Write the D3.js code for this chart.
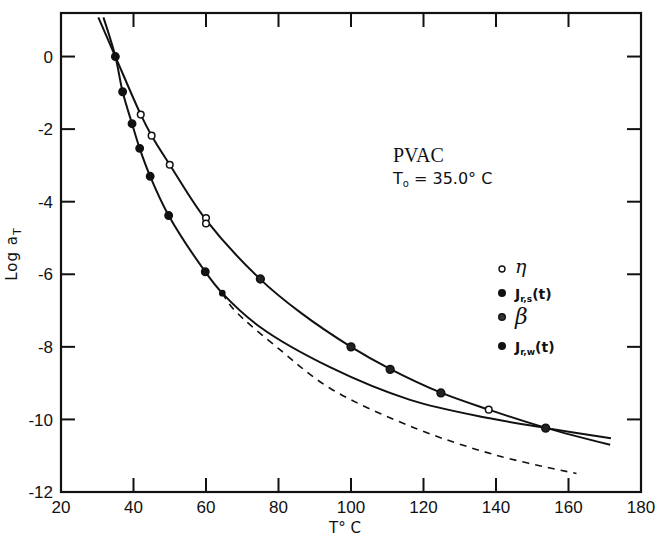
<!DOCTYPE html>
<html>
<head>
<meta charset="utf-8">
<script src="https://cdn.jsdelivr.net/npm/d3@7"></script>
<style>
  body { margin: 0; background: #fff; }
  text { font-family: "DejaVu Sans", sans-serif; fill: #111; }
</style>
</head>
<body>
<div id="chart"></div>
<script>
// fitted curves, [T (deg C), log aT]
const upperCurve = [[30.3,1.08],[35,0],[42,-1.6],[45,-2.18],[50,-2.98],[60,-4.5],[75,-6.14],[86,-7.05],[100,-8.0],[111,-8.62],[125,-9.27],[138,-9.73],[154,-10.24],[171.5,-10.7]];
const lowerCurve = [[31.7,1.08],[35,0],[37,-0.97],[39.6,-1.85],[41.7,-2.53],[44.6,-3.3],[49.7,-4.38],[59.8,-5.93],[64.5,-6.52],[75,-7.46],[94.2,-8.56],[116.3,-9.46],[138.3,-9.97],[154,-10.24],[171.7,-10.52]];
const dashedCurve = [[64.5,-6.52],[67.5,-6.95],[80.9,-8.12],[94.2,-9.14],[117.7,-10.24],[140.2,-10.99],[162.2,-11.49]];

// measured points
const etaPts = [[42,-1.6],[45,-2.18],[50,-2.98],[60,-4.45],[60,-4.6],[138,-9.73]];
const jrsPts = [[35,0],[37,-0.97],[39.6,-1.85],[41.7,-2.53],[44.6,-3.3],[49.7,-4.38],[59.8,-5.93]];
const betaPts = [[75,-6.13],[100,-8.0],[110.8,-8.62],[124.8,-9.27],[153.7,-10.24]];
const jrwPts = [[64.5,-6.52]];

const xTicks = [20,40,60,80,100,120,140,160,180];
const yTicks = [0,-2,-4,-6,-8,-10,-12];

let w = 655, h = 539;
let margin = {left: 61, right: 641, top: 13, bottom: 492};

let svg = d3.select("#chart").append("svg")
    .attr("width", w)
    .attr("height", h);

let x = d3.scaleLinear().domain([20,180]).range([margin.left, margin.right]);
let y = d3.scaleLinear().domain([-12,1.2]).range([margin.bottom, margin.top]);

// frame
svg.append("rect")
    .attr("x", margin.left).attr("y", margin.top)
    .attr("width", margin.right - margin.left).attr("height", margin.bottom - margin.top)
    .attr("fill", "none").attr("stroke", "#111").attr("stroke-width", 2.2);

// inward ticks on all four sides
let tk = 14;
let inner = xTicks.slice(1, -1);
svg.append("g").selectAll("line").data(inner).enter().append("line")
    .attr("x1", d => x(d)).attr("x2", d => x(d))
    .attr("y1", margin.bottom).attr("y2", margin.bottom - tk)
    .attr("stroke", "#111").attr("stroke-width", 2);
svg.append("g").selectAll("line").data(inner).enter().append("line")
    .attr("x1", d => x(d)).attr("x2", d => x(d))
    .attr("y1", margin.top).attr("y2", margin.top + tk)
    .attr("stroke", "#111").attr("stroke-width", 2);
let yInner = yTicks.slice(0, -1);
svg.append("g").selectAll("line").data(yInner).enter().append("line")
    .attr("x1", margin.left).attr("x2", margin.left + tk)
    .attr("y1", d => y(d)).attr("y2", d => y(d))
    .attr("stroke", "#111").attr("stroke-width", 2);
svg.append("g").selectAll("line").data(yInner).enter().append("line")
    .attr("x1", margin.right).attr("x2", margin.right - tk)
    .attr("y1", d => y(d)).attr("y2", d => y(d))
    .attr("stroke", "#111").attr("stroke-width", 2);

// tick labels
svg.append("g").selectAll("text").data(xTicks).enter().append("text")
    .attr("x", d => x(d)).attr("y", margin.bottom + 21)
    .attr("text-anchor", "middle")
    .style("font-family", "'Liberation Sans', sans-serif")
    .style("font-size", "17px")
    .text(d => d);
svg.append("g").selectAll("text").data(yTicks).enter().append("text")
    .attr("x", 53).attr("y", d => y(d))
    .attr("dy", "0.36em")
    .attr("text-anchor", "end")
    .style("font-family", "'Liberation Sans', sans-serif")
    .style("font-size", "17px")
    .text(d => d === 0 ? "0" : "-" + Math.abs(d));

// axis titles
svg.append("text")
    .attr("x", 345).attr("y", 533)
    .attr("text-anchor", "middle")
    .style("font-size", "15px")
    .text("T° C");
let yl = svg.append("text")
    .attr("transform", "translate(17,254) rotate(-90)")
    .attr("text-anchor", "middle")
    .style("font-size", "15px")
    .style("letter-spacing", "1px");
yl.append("tspan").text("Log a");
yl.append("tspan").attr("dy", 4).style("font-size", "11px").text("T");

// curves
let line = d3.line().x(d => x(d[0])).y(d => y(d[1])).curve(d3.curveCatmullRom.alpha(0.5));
svg.append("path").attr("d", line(upperCurve))
    .attr("fill", "none").attr("stroke", "#111").attr("stroke-width", 2);
svg.append("path").attr("d", line(lowerCurve))
    .attr("fill", "none").attr("stroke", "#111").attr("stroke-width", 2);
svg.append("path").attr("d", line(dashedCurve))
    .attr("fill", "none").attr("stroke", "#111").attr("stroke-width", 1.6)
    .attr("stroke-dasharray", "7,6");

// markers
function dots(data, r, fill) {
    svg.append("g").selectAll("circle").data(data).enter().append("circle")
        .attr("cx", d => x(d[0])).attr("cy", d => y(d[1]))
        .attr("r", r).attr("fill", fill)
        .attr("stroke", "#111").attr("stroke-width", 1.5);
}
dots(etaPts, 3.3, "#fff");
dots(jrsPts, 3.7, "#111");
dots(betaPts, 3.9, "#222");
dots(jrwPts, 2.6, "#111");

// annotations
svg.append("text")
    .attr("x", 393).attr("y", 162)
    .style("font-family", "'Liberation Serif', serif")
    .style("font-size", "20px")
    .text("PVAC");
let t0 = svg.append("text")
    .attr("x", 393).attr("y", 184)
    .style("font-size", "16px");
t0.append("tspan").text("T");
t0.append("tspan").attr("dy", 3).style("font-size", "10px").text("o");
t0.append("tspan").attr("dy", -3).text(" = 35.0° C");

// legend
let legX = 502;
let legend = [
    {y: 269, fill: "#fff", r: 3, label: "eta"},
    {y: 293, fill: "#111", r: 3.3, label: "jrs"},
    {y: 317, fill: "#333", r: 3.3, label: "beta"},
    {y: 346, fill: "#111", r: 3.3, label: "jrw"}
];
legend.forEach(function(d) {
    svg.append("circle").attr("cx", legX).attr("cy", d.y).attr("r", d.r)
        .attr("fill", d.fill).attr("stroke", "#111").attr("stroke-width", 1.4);
    let t = svg.append("text").attr("x", legX + 13).attr("y", d.y + 6);
    if (d.label === "eta") {
        t.style("font-family", "'DejaVu Serif', serif").style("font-style", "italic")
            .style("font-size", "19px").attr("y", d.y + 4).text("η");
    } else if (d.label === "beta") {
        t.style("font-family", "'DejaVu Serif', serif").style("font-style", "italic")
            .style("font-size", "22px").attr("y", d.y + 7).text("β");
    } else {
        t.style("font-size", "14px").style("font-weight", "bold");
        t.append("tspan").text("J");
        t.append("tspan").attr("dy", 3).style("font-size", "9px")
            .text(d.label === "jrs" ? "r,s" : "r,w");
        t.append("tspan").attr("dy", -3).text("(t)");
    }
});
</script>
</body>
</html>
